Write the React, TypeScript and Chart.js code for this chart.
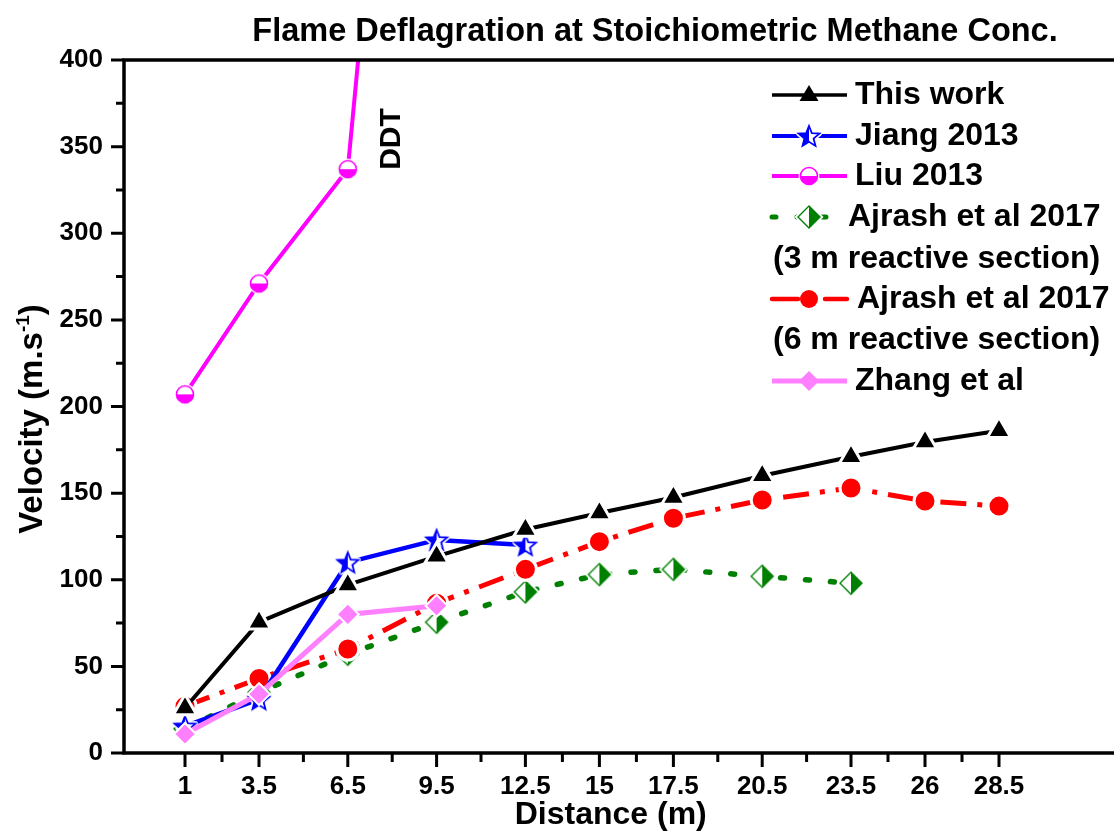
import React, { useEffect, useRef } from 'react';
import { Chart, registerables } from 'chart.js';

Chart.register(...registerables);

// ---------- data ----------
const xTickValues = [1, 3.5, 6.5, 9.5, 12.5, 15, 17.5, 20.5, 23.5, 26, 28.5];
const yTickValues = [0, 50, 100, 150, 200, 250, 300, 350, 400];

const thisWorkX = [1, 3.5, 6.5, 9.5, 12.5, 15, 17.5, 20.5, 23.5, 26, 28.5];
const thisWorkY = [26, 75.5, 97, 113.5, 129, 138.5, 147.5, 160, 171, 179.5, 186];

const jiangX = [1, 3.5, 6.5, 9.5, 12.5];
const jiangY = [15.5, 31, 110, 123, 120];

const liuX = [1, 3.5, 6.5, 6.85];
const liuY = [207, 271, 337, 400];

const ajrash3X = [1, 3.5, 6.5, 9.5, 12.5, 15, 17.5, 20.5, 23.5];
const ajrash3Y = [14, 35, 57, 75.5, 93, 103, 106, 102, 98];

const ajrash6X = [1, 3.5, 6.5, 9.5, 12.5, 15, 17.5, 20.5, 23.5, 26, 28.5];
const ajrash6Y = [27, 43, 60, 86.5, 106, 122, 135.5, 146, 153, 145.5, 142.5];

const zhangX = [1, 3.5, 6.5, 9.5];
const zhangY = [11, 34, 80, 85];

const legendLabels = [
  'This work',
  'Jiang 2013',
  'Liu 2013',
  'Ajrash et al 2017',
  '(3 m reactive section)',
  'Ajrash et al 2017',
  '(6 m reactive section)',
  'Zhang et al',
];

const titleText = 'Flame Deflagration at Stoichiometric Methane Conc.';
const xTitleText = 'Distance (m)';
const yTitleMain = 'Velocity (m.s';
const yTitleSup = '-1';
const yTitleEnd = ')';
const ddtText = 'DDT';

// ---------- styles ----------
const FONT = '"Liberation Sans", Arial, Helvetica, sans-serif';
const BLACK = '#000000';
const BLUE = '#0000FF';
const MAGENTA = '#FF00FF';
const GREEN = '#008000';
const RED = '#FF0000';
const VIOLET = '#FF80FF';
const WHITE = '#FFFFFF';

const GREEN_DASH = [4, 21];
const RED_DASH = [26, 11, 5, 11];

// pixel targets of the first and last tick labels (layout only)
const X_FIRST_PX = 185;
const X_LAST_PX = 999;

const pts = (xs: number[], ys: number[]) => xs.map((x, i) => ({ x, y: ys[i] }));

function makeMarker(size: number, draw: (ctx: CanvasRenderingContext2D, c: number) => void) {
  const cv = document.createElement('canvas');
  cv.width = size;
  cv.height = size;
  const ctx = cv.getContext('2d') as CanvasRenderingContext2D;
  draw(ctx, size / 2);
  return cv;
}

function starPath(ctx: CanvasRenderingContext2D, c: number, ro: number, ri: number) {
  ctx.beginPath();
  for (let i = 0; i < 10; i++) {
    const r = i % 2 === 0 ? ro : ri;
    const a = -Math.PI / 2 + (i * Math.PI) / 5;
    const px = c + r * Math.cos(a);
    const py = c + 1 + r * Math.sin(a);
    if (i === 0) ctx.moveTo(px, py);
    else ctx.lineTo(px, py);
  }
  ctx.closePath();
}

function diamondPath(ctx: CanvasRenderingContext2D, c: number, r: number) {
  ctx.beginPath();
  ctx.moveTo(c, c - r);
  ctx.lineTo(c - r, c);
  ctx.lineTo(c, c + r);
  ctx.lineTo(c + r, c);
  ctx.closePath();
}

function buildMarkers() {
  const star = makeMarker(30, (ctx, c) => {
    starPath(ctx, c, 11, 4.8);
    ctx.strokeStyle = WHITE;
    ctx.lineWidth = 5;
    ctx.lineJoin = 'round';
    ctx.stroke();
    ctx.fillStyle = WHITE;
    ctx.fill();
    ctx.save();
    ctx.beginPath();
    ctx.rect(0, 0, c, 2 * c);
    ctx.clip();
    starPath(ctx, c, 11, 4.8);
    ctx.fillStyle = BLUE;
    ctx.fill();
    ctx.restore();
    starPath(ctx, c, 11, 4.8);
    ctx.strokeStyle = BLUE;
    ctx.lineWidth = 1.8;
    ctx.lineJoin = 'miter';
    ctx.stroke();
  });
  const halfCircle = makeMarker(26, (ctx, c) => {
    const r = 8.5;
    ctx.beginPath();
    ctx.arc(c, c, r + 2, 0, 2 * Math.PI);
    ctx.fillStyle = WHITE;
    ctx.fill();
    ctx.beginPath();
    ctx.arc(c, c, r, 0, Math.PI);
    ctx.closePath();
    ctx.fillStyle = MAGENTA;
    ctx.fill();
    ctx.beginPath();
    ctx.arc(c, c, r, 0, 2 * Math.PI);
    ctx.strokeStyle = MAGENTA;
    ctx.lineWidth = 1.6;
    ctx.stroke();
  });
  const halfDiamond = makeMarker(30, (ctx, c) => {
    const r = 11;
    diamondPath(ctx, c, r);
    ctx.strokeStyle = WHITE;
    ctx.lineWidth = 5;
    ctx.stroke();
    ctx.fillStyle = WHITE;
    ctx.fill();
    ctx.beginPath();
    ctx.moveTo(c, c - r);
    ctx.lineTo(c + r, c);
    ctx.lineTo(c, c + r);
    ctx.closePath();
    ctx.fillStyle = GREEN;
    ctx.fill();
    diamondPath(ctx, c, r);
    ctx.strokeStyle = GREEN;
    ctx.lineWidth = 1.4;
    ctx.stroke();
  });
  return { star, halfCircle, halfDiamond };
}

export default function App() {
  const ref = useRef<HTMLCanvasElement | null>(null);

  useEffect(() => {
    document.body.style.margin = '0';
    const canvas = ref.current;
    if (!canvas) return;
    const m = buildMarkers();

    const drawMarkerStyle = (
      ctx: CanvasRenderingContext2D,
      style: any,
      x: number,
      y: number,
      color: string,
      radius: number
    ) => {
      if (typeof style !== 'string') {
        ctx.drawImage(style, x - style.width / 2, y - style.height / 2);
        return;
      }
      ctx.fillStyle = color;
      ctx.beginPath();
      if (style === 'triangle') {
        ctx.moveTo(x, y - radius);
        ctx.lineTo(x + radius * 0.95, y + radius * 0.6);
        ctx.lineTo(x - radius * 0.95, y + radius * 0.6);
        ctx.closePath();
      } else if (style === 'circle') {
        ctx.arc(x, y, radius, 0, Math.PI * 2);
      } else if (style === 'rectRot') {
        ctx.moveTo(x, y - radius);
        ctx.lineTo(x + radius, y);
        ctx.lineTo(x, y + radius);
        ctx.lineTo(x - radius, y);
        ctx.closePath();
      }
      ctx.fill();
    };

    const legendItems = [
      { row: 0, label: 0, color: BLACK, width: 3.5, dash: [] as number[], style: 'triangle' as any, r: 10, textX: 855 },
      { row: 1, label: 1, color: BLUE, width: 4, dash: [], style: m.star, r: 9, textX: 855 },
      { row: 2, label: 2, color: MAGENTA, width: 4, dash: [], style: m.halfCircle, r: 9, textX: 855 },
      { row: 3, label: 3, color: GREEN, width: 5, dash: GREEN_DASH, style: m.halfDiamond, r: 10, textX: 848 },
      { row: 5, label: 5, color: RED, width: 4.5, dash: RED_DASH, style: 'circle', r: 9, textX: 857 },
      { row: 7, label: 7, color: VIOLET, width: 5, dash: [], style: 'rectRot', r: 10, textX: 855 },
    ];
    const rowY = [95, 136, 176, 217, 259, 299, 340, 381];

    const decor = {
      id: 'decor',
      afterDraw(chart: any) {
        const ctx: CanvasRenderingContext2D = chart.ctx;
        const { left, top, bottom } = chart.chartArea;
        const xs = chart.scales.x;
        const ys = chart.scales.y;
        ctx.save();
        // axes frame
        ctx.strokeStyle = BLACK;
        ctx.lineWidth = 3.5;
        ctx.lineCap = 'butt';
        ctx.beginPath();
        ctx.moveTo(left - 1.75, top);
        ctx.lineTo(chart.width, top);
        ctx.moveTo(left, top - 1.75);
        ctx.lineTo(left, bottom + 1.75);
        ctx.moveTo(left - 1.75, bottom);
        ctx.lineTo(chart.width, bottom);
        ctx.stroke();
        // y ticks
        ctx.lineWidth = 3;
        ctx.beginPath();
        yTickValues.forEach((v, i) => {
          const y = ys.getPixelForValue(v);
          ctx.moveTo(left - 13, y);
          ctx.lineTo(left, y);
          if (i < yTickValues.length - 1) {
            const ym = ys.getPixelForValue((v + yTickValues[i + 1]) / 2);
            ctx.moveTo(left - 8, ym);
            ctx.lineTo(left, ym);
          }
        });
        // x ticks
        xTickValues.forEach((v, i) => {
          const x = xs.getPixelForValue(v);
          ctx.moveTo(x, bottom);
          ctx.lineTo(x, bottom + 14);
          if (i < xTickValues.length - 1) {
            const xm = xs.getPixelForValue((v + xTickValues[i + 1]) / 2);
            ctx.moveTo(xm, bottom);
            ctx.lineTo(xm, bottom + 9);
          }
        });
        ctx.stroke();

        // title
        ctx.fillStyle = BLACK;
        ctx.font = `bold 32.5px ${FONT}`;
        ctx.textAlign = 'center';
        ctx.textBaseline = 'alphabetic';
        ctx.fillText(titleText, 655, 41);

        // y axis title with superscript
        ctx.font = `bold 33px ${FONT}`;
        const w1 = ctx.measureText(yTitleMain).width;
        ctx.font = `bold 19px ${FONT}`;
        const w2 = ctx.measureText(yTitleSup).width;
        ctx.font = `bold 33px ${FONT}`;
        const w3 = ctx.measureText(yTitleEnd).width;
        const total = w1 + w2 + w3;
        ctx.save();
        ctx.translate(42, 419 + total / 2);
        ctx.rotate(-Math.PI / 2);
        ctx.textAlign = 'left';
        ctx.fillText(yTitleMain, 0, 0);
        ctx.font = `bold 19px ${FONT}`;
        ctx.fillText(yTitleSup, w1, -13);
        ctx.font = `bold 33px ${FONT}`;
        ctx.fillText(yTitleEnd, w1 + w2, 0);
        ctx.restore();

        // DDT annotation
        ctx.save();
        ctx.translate(400, 139);
        ctx.rotate(-Math.PI / 2);
        ctx.font = `bold 30px ${FONT}`;
        ctx.textAlign = 'center';
        ctx.textBaseline = 'alphabetic';
        ctx.fillText(ddtText, 0, 0);
        ctx.restore();

        // legend
        ctx.font = `bold 32px ${FONT}`;
        ctx.textAlign = 'left';
        ctx.textBaseline = 'middle';
        legendItems.forEach((it) => {
          const y = rowY[it.row];
          ctx.save();
          ctx.strokeStyle = it.color;
          ctx.lineWidth = it.width;
          ctx.lineCap = it.dash.length ? 'round' : 'butt';
          ctx.setLineDash(it.dash);
          ctx.beginPath();
          ctx.moveTo(772, y);
          ctx.lineTo(847, y);
          ctx.stroke();
          ctx.restore();
          drawMarkerStyle(ctx, it.style, 809, y, it.color, it.r);
          ctx.fillStyle = BLACK;
          ctx.fillText(legendLabels[it.label], it.textX, y);
        });
        ctx.fillText(legendLabels[4], 773, rowY[4]);
        ctx.fillText(legendLabels[6], 773, rowY[6]);
        ctx.restore();
      },
    };

    const liuRadius = liuX.map((_, i) => (i < 3 ? 10 : 0));

    const chart = new Chart(canvas, {
      type: 'line',
      data: {
        datasets: [
          {
            label: legendLabels[0],
            data: pts(thisWorkX, thisWorkY),
            borderColor: BLACK,
            backgroundColor: BLACK,
            borderWidth: 4,
            pointStyle: 'triangle',
            pointRadius: 13.5,
            pointBorderColor: WHITE,
            pointBorderWidth: 3,
            order: 0,
          },
          {
            label: legendLabels[1],
            data: pts(jiangX, jiangY),
            borderColor: BLUE,
            backgroundColor: BLUE,
            borderWidth: 4.5,
            pointStyle: m.star as any,
            pointRadius: 10,
            order: 2,
          },
          {
            label: legendLabels[2],
            data: pts(liuX, liuY),
            borderColor: MAGENTA,
            backgroundColor: MAGENTA,
            borderWidth: 4,
            pointStyle: m.halfCircle as any,
            pointRadius: liuRadius,
            order: 3,
          },
          {
            label: legendLabels[3],
            data: pts(ajrash3X, ajrash3Y),
            borderColor: GREEN,
            backgroundColor: GREEN,
            borderWidth: 5.5,
            borderDash: GREEN_DASH,
            borderCapStyle: 'round',
            pointStyle: m.halfDiamond as any,
            pointRadius: 10,
            order: 5,
          },
          {
            label: legendLabels[5],
            data: pts(ajrash6X, ajrash6Y),
            borderColor: RED,
            backgroundColor: RED,
            borderWidth: 5,
            borderDash: RED_DASH,
            pointStyle: 'circle',
            pointRadius: 11,
            pointBorderColor: WHITE,
            pointBorderWidth: 3,
            order: 4,
          },
          {
            label: legendLabels[7],
            data: pts(zhangX, zhangY),
            borderColor: VIOLET,
            backgroundColor: VIOLET,
            borderWidth: 5,
            pointStyle: 'rectRot',
            pointRadius: 11,
            pointBorderColor: WHITE,
            pointBorderWidth: 2,
            order: 1,
          },
        ],
      },
      options: {
        responsive: false,
        animation: false,
        events: [],
        layout: { padding: { top: 60, right: 0, bottom: 0, left: 0 } },
        plugins: {
          legend: { display: false },
          title: { display: false },
          tooltip: { enabled: false },
        },
        scales: {
          x: {
            type: 'linear',
            min: -1.06,
            max: 32.38,
            grid: { display: false, drawTicks: false },
            border: { display: false },
            afterBuildTicks: (scale: any) => {
              scale.ticks = xTickValues.map((v) => ({ value: v }));
            },
            afterFit: (scale: any) => {
              scale.height = 81;
              scale.paddingLeft = 0;
              scale.paddingRight = 0;
            },
            ticks: {
              autoSkip: false,
              maxRotation: 0,
              padding: 18,
              color: BLACK,
              font: { family: FONT, size: 26, weight: 'bold' },
              callback: (v: any) => String(v),
            },
            title: {
              display: true,
              text: xTitleText,
              color: BLACK,
              font: { family: FONT, size: 32, weight: 'bold' },
              padding: { top: 0, bottom: 0 },
            },
          },
          y: {
            type: 'linear',
            min: 0,
            max: 400,
            grid: { display: false, drawTicks: false },
            border: { display: false },
            afterBuildTicks: (scale: any) => {
              scale.ticks = yTickValues.map((v) => ({ value: v }));
            },
            afterFit: (scale: any) => {
              scale.width = 124;
              scale.paddingTop = 0;
              scale.paddingBottom = 0;
            },
            ticks: {
              padding: 21,
              color: BLACK,
              font: { family: FONT, size: 26, weight: 'bold' },
              callback: (v: any) => String(v),
            },
          },
        },
      },
      plugins: [decor],
    } as any);

    // fit the x range so that the first/last ticks land where the reference has them
    const area = chart.chartArea;
    const first = xTickValues[0];
    const last = xTickValues[xTickValues.length - 1];
    const k = (X_LAST_PX - X_FIRST_PX) / (last - first);
    const xOpts: any = (chart.options as any).scales.x;
    xOpts.min = first - (X_FIRST_PX - area.left) / k;
    xOpts.max = first + (area.right - X_FIRST_PX) / k;
    chart.update('none');

    return () => {
      chart.destroy();
    };
  }, []);

  return (
    <div style={{ width: 1114, height: 834, background: '#FFFFFF' }}>
      <canvas ref={ref} width={1114} height={834} style={{ display: 'block' }} />
    </div>
  );
}
